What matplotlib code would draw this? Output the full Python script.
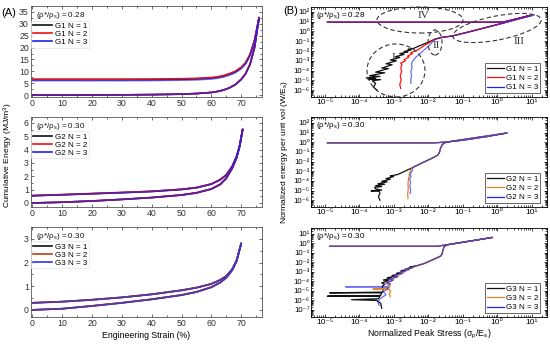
import matplotlib
matplotlib.use("Agg")
import math
import matplotlib.pyplot as plt
from matplotlib.patches import Ellipse
from matplotlib.transforms import IdentityTransform
from matplotlib.ticker import MultipleLocator, LogLocator, NullFormatter, FuncFormatter

plt.rcParams['font.family'] = ['Liberation Sans', 'DejaVu Sans']
plt.rcParams['mathtext.fontset'] = 'custom'
plt.rcParams['mathtext.rm'] = 'Liberation Sans'
plt.rcParams['mathtext.it'] = 'Liberation Sans:italic'
plt.rcParams['mathtext.bf'] = 'Liberation Sans:bold'

# ---------------- data: (A) cumulative energy vs strain ----------------
strain1 = [0, 10, 20, 30, 40, 50, 55, 60, 62, 64, 66, 68, 70, 71.5, 73, 74.5, 76]
g1_up_n1 = [6.5, 6.5, 6.5, 6.5, 6.55, 6.7, 6.85, 7.2, 7.5, 8.0, 8.8, 9.8, 11.5, 13.5, 17.0, 23.0, 32.5]
g1_up_n2 = [6.7, 6.7, 6.7, 6.7, 6.75, 6.9, 7.05, 7.4, 7.7, 8.2, 9.0, 10.0, 11.7, 13.7, 17.2, 23.2, 32.6]
g1_up_n3 = [6.1, 6.1, 6.1, 6.1, 6.15, 6.3, 6.45, 6.8, 7.1, 7.6, 8.4, 9.4, 11.1, 13.1, 16.6, 22.6, 32.2]
g1_lo_n1 = [0.0, 0.0, 0.05, 0.1, 0.2, 0.4, 0.65, 1.1, 1.5, 2.1, 3.0, 4.4, 6.6, 9.0, 13.0, 20.0, 32.5]
g1_lo_n2 = [0.0, 0.0, 0.05, 0.1, 0.2, 0.4, 0.66, 1.1, 1.5, 2.1, 3.0, 4.4, 6.6, 9.1, 13.1, 20.1, 32.6]
g1_lo_n3 = [0.0, 0.0, 0.05, 0.1, 0.2, 0.4, 0.64, 1.1, 1.5, 2.1, 3.0, 4.3, 6.5, 8.9, 12.9, 19.9, 32.2]

strain2 = [0, 10, 20, 30, 40, 50, 55, 60, 63, 65, 67, 68.5, 69.5, 70.5]
g2_up_n1 = [0.55, 0.62, 0.70, 0.78, 0.87, 1.02, 1.15, 1.42, 1.75, 2.10, 2.75, 3.50, 4.30, 5.50]
g2_up_n2 = [0.56, 0.63, 0.71, 0.79, 0.88, 1.03, 1.16, 1.43, 1.76, 2.11, 2.76, 3.51, 4.31, 5.52]
g2_up_n3 = [0.54, 0.61, 0.69, 0.77, 0.86, 1.01, 1.14, 1.41, 1.74, 2.09, 2.74, 3.49, 4.29, 5.48]
g2_lo_n1 = [0.00, 0.06, 0.15, 0.27, 0.41, 0.60, 0.76, 1.05, 1.40, 1.85, 2.60, 3.40, 4.25, 5.50]
g2_lo_n2 = [0.00, 0.06, 0.15, 0.27, 0.41, 0.61, 0.77, 1.06, 1.41, 1.86, 2.61, 3.41, 4.26, 5.52]
g2_lo_n3 = [0.00, 0.06, 0.15, 0.27, 0.40, 0.59, 0.75, 1.04, 1.39, 1.84, 2.59, 3.39, 4.24, 5.48]

strain3 = [0, 10, 20, 30, 40, 50, 55, 60, 63, 65, 67, 68.5, 70]
g3_up_n1 = [0.30, 0.35, 0.43, 0.53, 0.66, 0.83, 0.94, 1.10, 1.27, 1.43, 1.72, 2.10, 2.80]
g3_up_n2 = [0.30, 0.35, 0.43, 0.53, 0.66, 0.83, 0.94, 1.10, 1.27, 1.43, 1.72, 2.10, 2.80]
g3_up_n3 = [0.29, 0.34, 0.42, 0.52, 0.65, 0.82, 0.93, 1.09, 1.26, 1.42, 1.71, 2.09, 2.78]
g3_lo_n1 = [0.00, 0.05, 0.17, 0.30, 0.45, 0.63, 0.76, 0.96, 1.16, 1.36, 1.68, 2.07, 2.80]
g3_lo_n2 = [0.00, 0.05, 0.17, 0.30, 0.45, 0.63, 0.76, 0.96, 1.16, 1.36, 1.68, 2.07, 2.80]
g3_lo_n3 = [0.00, 0.05, 0.16, 0.29, 0.44, 0.62, 0.75, 0.95, 1.15, 1.35, 1.67, 2.06, 2.78]

# ---------------- data: (B) normalized energy vs normalized peak stress (x, y) ----------------
g1r_n1 = [(3.3e-4, 1.0e-6), (2.6e-4, 2.0e-6), (3.0e-4, 5.0e-6), (2.4e-4, 9.0e-6), (4.2e-4, 1.2e-5),
          (1.8e-4, 1.3e-5), (3.0e-4, 1.6e-5), (1.6e-4, 1.8e-5), (4.0e-4, 2.5e-5), (2.0e-4, 3.0e-5),
          (5.5e-4, 6.0e-5), (3.0e-4, 7.0e-5), (7.0e-4, 1.6e-4), (4.5e-4, 1.8e-4), (9.0e-4, 4.0e-4),
          (6.0e-4, 5.0e-4), (1.2e-3, 1.0e-3), (8.0e-4, 1.2e-3), (1.5e-3, 2.2e-3), (1.1e-3, 2.6e-3),
          (2.0e-3, 4.5e-3), (1.5e-3, 5.5e-3), (2.6e-3, 8.0e-3), (2.0e-3, 9.0e-3), (3.2e-3, 1.3e-2),
          (2.6e-3, 1.5e-2), (3.8e-3, 1.9e-2), (6.0e-3, 3.8e-2), (1.0e-2, 8.0e-2), (1.6e-2, 0.17),
          (2.5e-2, 0.25), (5.0e-2, 0.35), (0.2, 1.2), (1.5, 7.5), (9.0, 45), (4.0, 22), (1.5, 9.3),
          (0.5, 9.0), (1.2e-5, 9.0)]
g1r_n2 = [(1.6e-3, 1.5e-6), (1.5e-3, 4.0e-6), (1.65e-3, 1.0e-5), (1.55e-3, 3.0e-5), (1.7e-3, 8.0e-5),
          (1.6e-3, 2.0e-4), (1.75e-3, 4.0e-4), (1.6e-3, 6.0e-4), (2.2e-3, 1.0e-3), (2.0e-3, 1.3e-3),
          (2.8e-3, 2.5e-3), (2.5e-3, 3.0e-3), (3.5e-3, 5.5e-3), (3.1e-3, 6.5e-3), (5.0e-3, 1.3e-2),
          (8.0e-3, 4.0e-2), (1.2e-2, 9.0e-2), (1.6e-2, 0.17), (2.5e-2, 0.25), (5.0e-2, 0.35),
          (0.2, 1.15), (1.5, 7.2), (10.0, 46), (4.0, 21), (1.5, 9.2), (0.5, 9.0), (1.2e-5, 9.0)]
g1r_n3 = [(3.2e-3, 5.0e-6), (3.1e-3, 1.0e-5), (3.3e-3, 3.0e-5), (3.15e-3, 8.0e-5), (3.4e-3, 2.0e-4),
          (3.3e-3, 5.0e-4), (3.6e-3, 1.0e-3), (4.5e-3, 2.5e-3), (6.0e-3, 6.0e-3), (8.0e-3, 1.5e-2),
          (1.1e-2, 4.0e-2), (1.6e-2, 0.16), (2.5e-2, 0.24), (5.0e-2, 0.33), (0.2, 1.1), (1.5, 7.0),
          (12.0, 48), (5.0, 24), (1.5, 9.2), (0.5, 9.0), (1.2e-5, 9.0)]

g2r_n1 = [(4.0e-4, 1.0e-6), (3.6e-4, 2.5e-6), (4.0e-4, 5.0e-6), (3.8e-4, 8.5e-6), (2.2e-4, 9.0e-6),
          (2.6e-4, 1.0e-5), (4.5e-4, 1.1e-5), (3.0e-4, 1.5e-5), (2.8e-4, 2.2e-5), (4.5e-4, 2.6e-5),
          (3.0e-4, 3.2e-5), (5.5e-4, 4.5e-5), (3.5e-4, 5.0e-5), (6.5e-4, 8.0e-5), (4.5e-4, 9.0e-5),
          (8.0e-4, 1.5e-4), (6.0e-4, 1.7e-4), (1.0e-3, 2.8e-4), (8.0e-4, 3.2e-4), (1.3e-3, 4.5e-4),
          (1.6e-3, 6.3e-4), (3.2e-3, 2.0e-3), (6.3e-3, 6.6e-3), (1.26e-2, 2.1e-2), (1.9e-2, 4.6e-2),
          (2.1e-2, 8.0e-2), (2.3e-2, 0.25), (2.6e-2, 0.6), (3.2e-2, 0.95), (6.0e-2, 1.4), (0.3, 3.3),
          (1.8, 8.5), (0.5, 3.8), (0.1, 1.6), (3.0e-2, 1.0), (1.45e-2, 0.85), (1.2e-5, 0.85)]
g2r_n2 = [(2.6e-3, 1.5e-6), (2.55e-3, 5.0e-6), (2.65e-3, 1.5e-5), (2.6e-3, 5.0e-5), (2.7e-3, 1.5e-4),
          (2.8e-3, 4.0e-4), (3.0e-3, 9.0e-4), (3.3e-3, 2.0e-3), (6.3e-3, 6.5e-3), (1.26e-2, 2.1e-2),
          (1.9e-2, 4.5e-2), (2.1e-2, 8.0e-2), (2.3e-2, 0.25), (2.6e-2, 0.6), (3.2e-2, 0.95),
          (6.0e-2, 1.4), (0.3, 3.3), (1.8, 8.5), (0.5, 3.8), (0.1, 1.6), (3.0e-2, 1.0),
          (1.45e-2, 0.85), (1.2e-5, 0.85)]
g2r_n3 = [(3.0e-3, 5.0e-6), (3.1e-3, 1.2e-5), (2.95e-3, 3.0e-5), (3.1e-3, 8.0e-5), (2.9e-3, 1.5e-4),
          (3.2e-3, 3.0e-4), (3.0e-3, 5.0e-4), (3.4e-3, 1.0e-3), (3.6e-3, 2.4e-3), (6.3e-3, 6.7e-3),
          (1.26e-2, 2.1e-2), (1.9e-2, 4.6e-2), (2.1e-2, 8.0e-2), (2.3e-2, 0.25), (2.6e-2, 0.6),
          (3.2e-2, 0.95), (6.0e-2, 1.4), (0.3, 3.3), (2.0, 9.0), (0.5, 3.7), (0.1, 1.55),
          (3.0e-2, 1.0), (1.45e-2, 0.85), (1.2e-5, 0.85)]

g3r_n1 = [(4.5e-4, 1.5e-7), (4.2e-4, 5.0e-7), (3.2e-4, 1.0e-6), (6.0e-5, 1.2e-6), (3.6e-4, 1.5e-6),
          (4.0e-4, 2.8e-6), (1.2e-5, 2.8e-6), (4.2e-4, 3.3e-6), (4.5e-4, 6.3e-6), (1.4e-5, 6.3e-6),
          (4.8e-4, 7.5e-6), (5.0e-4, 1.5e-5), (4.6e-4, 3.0e-5), (5.5e-4, 5.0e-5), (4.5e-4, 7.0e-5),
          (7.0e-4, 1.2e-4), (5.0e-4, 1.4e-4), (9.0e-4, 2.1e-4), (6.5e-4, 2.4e-4), (1.2e-3, 3.8e-4),
          (9.0e-4, 4.2e-4), (1.6e-3, 6.3e-4), (1.2e-3, 7.0e-4), (2.1e-3, 1.1e-3), (1.6e-3, 1.2e-3),
          (2.8e-3, 1.8e-3), (2.2e-3, 2.0e-3), (3.8e-3, 3.0e-3), (3.0e-3, 3.3e-3), (5.0e-3, 4.8e-3),
          (7.9e-3, 7.9e-3), (1.58e-2, 2.45e-2), (2.3e-2, 4.6e-2), (2.5e-2, 7.0e-2), (2.7e-2, 0.2),
          (2.9e-2, 0.45), (3.5e-2, 0.7), (0.1, 1.3), (0.74, 4.3), (0.2, 2.0), (5.0e-2, 0.9),
          (2.5e-2, 0.6), (1.9e-2, 0.5), (1.4e-5, 0.5)]
g3r_n2 = [(8.0e-4, 2.5e-6), (7.5e-4, 5.0e-6), (8.2e-4, 1.0e-5), (7.0e-4, 1.5e-5), (2.5e-4, 1.6e-5),
          (7.5e-4, 2.0e-5), (8.0e-4, 5.0e-5), (6.0e-4, 6.0e-5), (1.0e-3, 1.5e-4), (8.0e-4, 1.8e-4),
          (1.4e-3, 3.5e-4), (1.1e-3, 4.0e-4), (1.9e-3, 8.0e-4), (1.5e-3, 9.0e-4), (2.6e-3, 1.6e-3),
          (2.1e-3, 1.8e-3), (3.5e-3, 2.8e-3), (5.0e-3, 4.8e-3), (7.9e-3, 8.0e-3), (1.58e-2, 2.45e-2),
          (2.3e-2, 4.6e-2), (2.5e-2, 7.0e-2), (2.7e-2, 0.2), (2.9e-2, 0.45), (3.5e-2, 0.7),
          (0.1, 1.3), (0.74, 4.3), (0.2, 2.0), (5.0e-2, 0.9), (2.5e-2, 0.6), (1.9e-2, 0.5),
          (1.4e-5, 0.5)]
g3r_n3 = [(3.8e-4, 3.0e-7), (3.4e-4, 8.0e-7), (4.5e-4, 2.0e-6), (6.0e-4, 4.0e-6), (5.0e-4, 8.0e-6),
          (6.5e-4, 1.5e-5), (7.0e-4, 2.6e-5), (4.0e-5, 2.7e-5), (6.5e-4, 2.9e-5), (8.0e-4, 6.0e-5),
          (6.0e-4, 7.0e-5), (9.5e-4, 1.3e-4), (7.0e-4, 1.5e-4), (1.3e-3, 3.0e-4), (9.0e-4, 3.4e-4),
          (1.8e-3, 7.0e-4), (1.3e-3, 7.8e-4), (2.4e-3, 1.4e-3), (1.8e-3, 1.6e-3), (3.2e-3, 2.4e-3),
          (2.6e-3, 2.7e-3), (4.5e-3, 4.2e-3), (7.9e-3, 8.0e-3), (1.58e-2, 2.5e-2), (2.3e-2, 4.7e-2),
          (2.5e-2, 7.0e-2), (2.7e-2, 0.2), (2.9e-2, 0.45), (3.5e-2, 0.7), (0.1, 1.3), (0.74, 4.3),
          (0.2, 2.0), (5.0e-2, 0.9), (2.5e-2, 0.6), (1.9e-2, 0.5), (1.4e-5, 0.5)]

density_labels = ["0.28", "0.30", "0.30"]
group_names = ["G1", "G2", "G3"]
n_labels = ["N = 1", "N = 2", "N = 3"]
x_label_A = "Engineering Strain (%)"
y_label_A = "Cumulative Energy (MJ/m$^3$)"
x_label_B = "Normalized Peak Stress (σ$_\\mathrm{p}$/E$_\\mathrm{s}$)"
y_label_B = "Normalized energy per unit vol (W/E$_\\mathrm{s}$)"

SUP = {'-': '\u207b', '0': '\u2070', '1': '\u00b9', '2': '\u00b2', '3': '\u00b3', '4': '\u2074',
       '5': '\u2075', '6': '\u2076', '7': '\u2077', '8': '\u2078', '9': '\u2079'}


def pow10_label(v, pos):
    e = int(round(math.log10(v)))
    return "10" + "".join(SUP[c] for c in str(e))


# ---------------- figure ----------------
W, H = 550, 349
fig = plt.figure(figsize=(W / 100, H / 100), dpi=100)


def px_axes(x0, y0, x1, y1):
    return fig.add_axes([x0 / W, 1 - y1 / H, (x1 - x0) / W, (y1 - y0) / H])


left_boxes = [(31, 6, 262, 97), (31, 117, 262, 207), (31, 227, 262, 317)]
right_boxes = [(311, 7, 547, 97), (311, 117, 547, 207), (311, 228, 547, 317)]

colors_A = [["#111111", "#ee1111", "#2020ee"],
            ["#111111", "#ee1111", "#2020ee"],
            ["#111111", "#b8401a", "#3030ee"]]
colors_B = [["#111111", "#ff1010", "#2020f0"],
            ["#111111", "#e0852b", "#2020f0"],
            ["#111111", "#e0852b", "#2020f0"]]

left_data = [
    (strain1, [g1_up_n1, g1_up_n2, g1_up_n3], [g1_lo_n1, g1_lo_n2, g1_lo_n3]),
    (strain2, [g2_up_n1, g2_up_n2, g2_up_n3], [g2_lo_n1, g2_lo_n2, g2_lo_n3]),
    (strain3, [g3_up_n1, g3_up_n2, g3_up_n3], [g3_lo_n1, g3_lo_n2, g3_lo_n3]),
]
left_ylims = [(-0.8, 37.5), (-0.3, 6.45), (-0.3, 3.5)]
left_ymaj = [5, 1, 1]
left_ymin = [2.5, 0.5, 0.5]

FS = 6.3
for i, (box, (xs, ups, los)) in enumerate(zip(left_boxes, left_data)):
    ax = px_axes(*box)
    handles = []
    for k in range(3):
        a = 0.7 if k == 2 else 1.0
        h, = ax.plot(xs, ups[k], color=colors_A[i][k], lw=1.2, alpha=a)
        ax.plot(xs, los[k], color=colors_A[i][k], lw=1.2, alpha=a)
        handles.append(h)
    ax.set_xlim(-0.5, 77)
    ax.set_ylim(*left_ylims[i])
    ax.xaxis.set_major_locator(MultipleLocator(10))
    ax.xaxis.set_minor_locator(MultipleLocator(5))
    ax.yaxis.set_major_locator(MultipleLocator(left_ymaj[i]))
    ax.yaxis.set_minor_locator(MultipleLocator(left_ymin[i]))
    ax.tick_params(which='both', direction='in', top=True, right=True, labelsize=FS,
                   width=0.5, colors='#333333', pad=1.5)
    ax.tick_params(which='major', length=2.5)
    ax.tick_params(which='minor', length=1.5)
    for sp in ax.spines.values():
        sp.set_linewidth(0.6)
        sp.set_color('#555555')
    ax.text(5 / 231, 0.9, "(ρ*/ρ$_\\mathrm{s}$) = " + density_labels[i],
            transform=ax.transAxes, fontsize=5.8, ha='left', va='center', color='#111111')
    leg = ax.legend(handles, [group_names[i] + " " + n for n in n_labels], loc='upper left',
                    bbox_to_anchor=(0.002, 0.84), fontsize=5.8, frameon=True, fancybox=False,
                    handlelength=2.4, handletextpad=0.3, labelspacing=0.05, borderpad=0.2,
                    borderaxespad=0.0)
    leg.get_frame().set_edgecolor('#dddddd')
    leg.get_frame().set_linewidth(0.5)
    for lh in leg.get_lines():
        lh.set_alpha(1.0)
    if i == 2:
        ax.set_xlabel(x_label_A, fontsize=FS, labelpad=2)

fig.text(8 / W, 1 - 155 / H, y_label_A, rotation=90, fontsize=6.1, ha='center', va='center')

right_data = [[g1r_n1, g1r_n2, g1r_n3], [g2r_n1, g2r_n2, g2r_n3], [g3r_n1, g3r_n2, g3r_n3]]
right_ylims = [(2.0e-7, 3.2e2), (2.0e-7, 4.0e2), (1.8e-8, 4.2e1)]
right_yticks = [[10.0 ** e for e in range(-6, 3)], [10.0 ** e for e in range(-6, 3)],
                [10.0 ** e for e in range(-7, 2)]]

for i, box in enumerate(right_boxes):
    ax = px_axes(*box)
    handles = []
    for k in range(3):
        pts = right_data[i][k]
        xs = [p[0] for p in pts]
        ys = [p[1] for p in pts]
        a = 0.65 if k == 2 else 1.0
        h, = ax.plot(xs, ys, color=colors_B[i][k], lw=0.9, alpha=a)
        handles.append(h)
    ax.set_xscale('log')
    ax.set_yscale('log')
    ax.set_xlim(4.0e-6, 28)
    ax.set_ylim(*right_ylims[i])
    ax.set_xticks([10.0 ** e for e in range(-5, 2)])
    ax.set_yticks(right_yticks[i])
    ax.xaxis.set_major_formatter(FuncFormatter(pow10_label))
    ax.yaxis.set_major_formatter(FuncFormatter(pow10_label))
    ax.xaxis.set_minor_locator(LogLocator(base=10, subs=range(2, 10), numticks=30))
    ax.yaxis.set_minor_locator(LogLocator(base=10, subs=range(2, 10), numticks=30))
    ax.xaxis.set_minor_formatter(NullFormatter())
    ax.yaxis.set_minor_formatter(NullFormatter())
    ax.tick_params(which='both', direction='in', top=True, right=True, labelsize=6.0,
                   width=0.5, pad=1.5)
    ax.tick_params(axis='y', which='major', labelsize=5.6, pad=1.0)
    ax.tick_params(which='major', length=2.5)
    ax.tick_params(which='minor', length=1.3)
    for sp in ax.spines.values():
        sp.set_linewidth(0.6)
    ax.text(0.02, 0.91, "(ρ*/ρ$_\\mathrm{s}$) = " + density_labels[i], transform=ax.transAxes,
            fontsize=5.8, ha='left', va='center')
    leg = ax.legend(handles, [group_names[i] + " " + n for n in n_labels], loc='lower right',
                    bbox_to_anchor=(0.972, 0.04), fontsize=5.8, frameon=True, fancybox=False,
                    handlelength=2.0, handletextpad=0.3, labelspacing=0.2, borderpad=0.25,
                    borderaxespad=0.0)
    leg.get_frame().set_edgecolor('#222222')
    leg.get_frame().set_linewidth(0.6)
    for lh in leg.get_lines():
        lh.set_alpha(1.0)
    if i == 2:
        ax.set_xlabel(x_label_B, fontsize=FS, labelpad=1)

fig.text(284 / W, 1 - 152 / H, y_label_B, rotation=90, fontsize=6.1, ha='center', va='center')

# annotations in panel B1 (pixel positions, y measured from top)
ell_specs = [(396, 70.5, 58, 53, 0), (435, 42.5, 14, 25, 0), (497, 28, 90, 24, 11), (420, 20, 86, 26, 0)]
for (cx, cy, w, h, ang) in ell_specs:
    e = Ellipse((cx, H - cy), w, h, angle=ang, transform=IdentityTransform(), fill=False,
                edgecolor='#333333', lw=0.8, linestyle=(0, (4, 2.5)), clip_on=False)
    fig.add_artist(e)
for (tx, ty, s) in [(393, 58, "I"), (436, 46, "II"), (519, 41, "III"), (423, 15, "IV")]:
    fig.text(tx / W, 1 - ty / H, s, fontsize=8, family=['Liberation Serif', 'DejaVu Serif'],
             ha='center', va='center', color='#333333')

fig.text(1 / W, 1 - 13 / H, "(A)", fontsize=8, ha='left', va='center')
fig.text(283 / W, 1 - 11 / H, "(B)", fontsize=8, ha='left', va='center')

fig.savefig("out.png", dpi=100)
